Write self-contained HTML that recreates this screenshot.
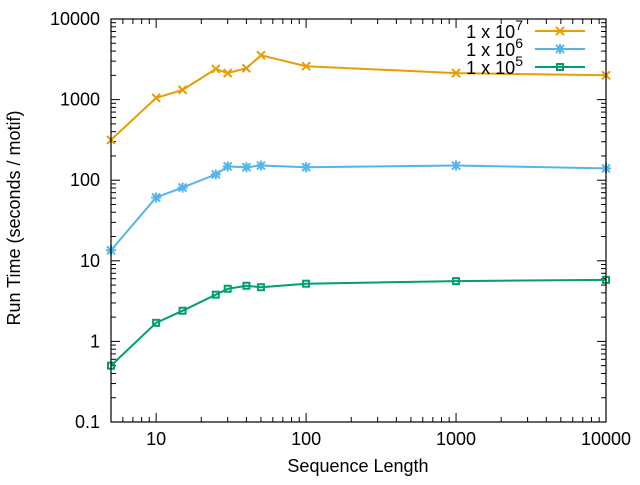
<!DOCTYPE html>
<html><head><meta charset="utf-8"><style>
body{margin:0;background:#fff;}
svg text{font-family:"Liberation Sans",sans-serif;font-size:18px;fill:#000;}
</style></head><body>
<svg id="chart" width="640" height="480">
<rect x="0" y="0" width="640" height="480" fill="#fff"/>
<g id="grid"></g>
<g id="series"></g>
<rect x="111" y="19" width="495" height="403" fill="none" stroke="#000" stroke-width="1.2"/>
<text x="20" y="218" text-anchor="middle" transform="rotate(-90 20 218)">Run Time (seconds / motif)</text>
<text x="358" y="472" text-anchor="middle">Sequence Length</text>
<g>
<text x="523" y="38" text-anchor="end">1 x 10<tspan dy="-8" font-size="14">7</tspan></text>
<text x="523" y="56" text-anchor="end">1 x 10<tspan dy="-8" font-size="14">6</tspan></text>
<text x="523" y="74" text-anchor="end">1 x 10<tspan dy="-8" font-size="14">5</tspan></text>
</g>
</svg>
<script>
const xValues=[5,10,15,25,30,40,50,100,1000,10000];
const series1e7=[316,1050,1320,2400,2130,2450,3550,2600,2130,2000];
const series1e6=[13.5,61,81,118,148,145,152,145,152,140];
const series1e5=[0.5,1.7,2.4,3.8,4.5,4.9,4.7,5.2,5.6,5.8];
const yTicks=[0.1,1,10,100,1000,10000];
const yTickLabels=["0.1","1","10","100","1000","10000"];
const xTicks=[10,100,1000,10000];
const xTickLabels=["10","100","1000","10000"];
const NS="http://www.w3.org/2000/svg";
const L=111,R=606,T=19,B=422;
function xs(v){return L+(Math.log10(v)-Math.log10(5))/(4-Math.log10(5))*(R-L);}
function ys(v){return B-(Math.log10(v)+1)/5*(B-T);}
function mk(tag,attrs,parent){const e=document.createElementNS(NS,tag);for(const k in attrs)e.setAttribute(k,attrs[k]);parent.appendChild(e);return e;}
const grid=document.getElementById('grid');
const ser=document.getElementById('series');
const svg=document.getElementById('chart');
yTicks.forEach((v,i)=>{
  const y=ys(v);
  let t=mk('line',{x1:L,x2:L+9,y1:y,y2:y,stroke:'#000'},grid);
  
  
  t=mk('line',{x1:R-9,x2:R,y1:y,y2:y,stroke:'#000'},grid);
  
  
  const tx=mk('text',{x:100,y:y+6,'text-anchor':'end'},svg);
  tx.textContent=yTickLabels[i];
  
  
  if(i<yTicks.length-1){for(let m=2;m<10;m++){const yy=ys(v*m);
    let a=mk('line',{x1:L,x2:L+5,y1:yy,y2:yy,stroke:'#000'},grid);
    
    
    a=mk('line',{x1:R-5,x2:R,y1:yy,y2:yy,stroke:'#000'},grid);
    
    }}
});
xTicks.forEach((v,i)=>{
  const x=xs(v);
  let t=mk('line',{x1:x,x2:x,y1:B,y2:B-9,stroke:'#000'},grid);
  
  
  t=mk('line',{x1:x,x2:x,y1:T,y2:T+9,stroke:'#000'},grid);
  
  
  const tx=mk('text',{x:x,y:445,'text-anchor':'middle'},svg);
  tx.textContent=xTickLabels[i];
  
  
});
[6,7,8,9,20,30,40,50,60,70,80,90,200,300,400,500,600,700,800,900,2000,3000,4000,5000,6000,7000,8000,9000].forEach(v=>{
  const x=xs(v);
  let a=mk('line',{x1:x,x2:x,y1:B,y2:B-5,stroke:'#000'},grid);
  
  
  a=mk('line',{x1:x,x2:x,y1:T,y2:T+5,stroke:'#000'},grid);
  
  
});
function marker(type,x,y,c,g){
  if(type==='x'){
    mk('path',{d:`M${x-4},${y-4}L${x+4},${y+4}M${x-4},${y+4}L${x+4},${y-4}`,stroke:c,'stroke-width':2,fill:'none'},g);
  }else if(type==='star'){
    mk('path',{d:`M${x-4},${y-4}L${x+4},${y+4}M${x-4},${y+4}L${x+4},${y-4}M${x-5},${y}L${x+5},${y}M${x},${y-5}L${x},${y+5}`,stroke:c,'stroke-width':2,fill:'none'},g);
  }else{
    mk('rect',{x:x-3,y:y-3,width:6,height:6,stroke:c,'stroke-width':2,fill:'none'},g);
  }
}
function drawSeries(vals,color,type,name,ly){
  const g=mk('g',{},ser);
  
  
  const pts=vals.map((v,i)=>xs(xValues[i]).toFixed(1)+','+ys(v).toFixed(1)).join(' ');
  const pl=mk('polyline',{points:pts,fill:'none',stroke:color,'stroke-width':2},g);
  
  
  vals.forEach((v,i)=>marker(type,xs(xValues[i]),ys(v),color,g));
  const lg=mk('g',{},svg);
  
  
  mk('line',{x1:535,x2:585,y1:ly,y2:ly,stroke:color,'stroke-width':2},lg);
  marker(type,560,ly,color,lg);
}
drawSeries(series1e7,'#e69f00','x','series-1e7',31);
drawSeries(series1e6,'#56b4e9','star','series-1e6',49);
drawSeries(series1e5,'#009e73','sq','series-1e5',67);
</script>
</body></html>
